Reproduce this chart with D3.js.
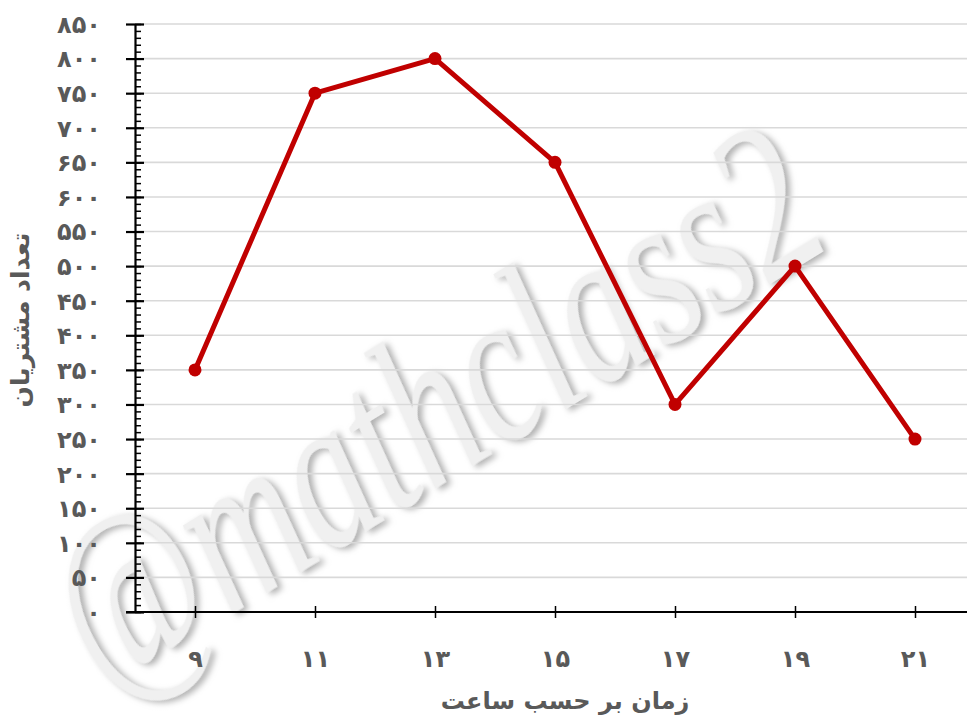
<!DOCTYPE html>
<html>
<head>
<meta charset="utf-8">
<script src="https://cdn.jsdelivr.net/npm/d3@7"></script>
<style>
  body { margin: 0; background: #fff; }
  svg { display: block; }
</style>
</head>
<body>
<div id="chart"></div>
<script>
// data
var hours = [9, 11, 13, 15, 17, 19, 21];
var customers = [350, 750, 800, 650, 300, 500, 250];
var yMax = 850;
var xTitle = "زمان بر حسب ساعت";
var yTitle = "تعداد مشتریان";
var watermark = "@mathclass2";

var width = 967, height = 719;
var mLeft = 135, mTop = 24, mBottom = 612;

var fa = function(n) {
  return String(n).replace(/\d/g, function(d) { return "۰۱۲۳۴۵۶۷۸۹"[d]; });
};

var svg = d3.select("#chart").append("svg")
    .attr("width", width)
    .attr("height", height);

var defs = svg.append("defs");
var shadow = defs.append("filter").attr("id", "wmShadow")
    .attr("x", "-20%").attr("y", "-20%").attr("width", "140%").attr("height", "140%");
shadow.append("feDropShadow")
    .attr("dx", 3).attr("dy", 4)
    .attr("stdDeviation", 3)
    .attr("flood-color", "#9a9a9a")
    .attr("flood-opacity", 0.8);

// scales
var x = d3.scaleLinear().domain([8, 22]).range([mLeft, 975]);
var y = d3.scaleLinear().domain([0, yMax]).range([mBottom, mTop]);

// watermark (behind everything)
svg.append("text")
    .attr("transform", "translate(470,468) rotate(-31.5)")
    .attr("text-anchor", "middle")
    .attr("textLength", 860)
    .attr("lengthAdjust", "spacingAndGlyphs")
    .style("font-family", "'Liberation Serif', serif")
    .style("font-style", "italic")
    .style("font-size", "220px")
    .style("fill", "#f0f0f0")
    .attr("filter", "url(#wmShadow)")
    .text(watermark);

// gridlines
svg.append("g")
    .selectAll("line")
    .data(y.ticks(17).filter(function(d) { return d > 0; }))
    .enter().append("line")
      .attr("x1", mLeft).attr("x2", width)
      .attr("y1", function(d) { return y(d); })
      .attr("y2", function(d) { return y(d); })
      .style("stroke", "#d9d9d9")
      .style("stroke-width", 1.6);

// y axis: minor ticks every 10
svg.append("g")
    .attr("transform", "translate(" + mLeft + ",0)")
    .call(d3.axisRight(y).tickValues(d3.range(0, yMax + 1, 10)).tickSize(6).tickFormat(""))
    .call(function(g) { g.select(".domain").remove(); })
    .selectAll("line").style("stroke", "#000").style("stroke-width", 1.5);

// y axis: major ticks + labels
var yAxis = svg.append("g")
    .attr("transform", "translate(" + mLeft + ",0)")
    .call(d3.axisLeft(y).ticks(17).tickSize(9).tickSizeOuter(0).tickFormat(fa));
yAxis.select(".domain").style("stroke", "#000").style("stroke-width", 2.2);
yAxis.selectAll(".tick line")
    .attr("x1", 9).attr("x2", -9)
    .style("stroke", "#000").style("stroke-width", 2.2);
yAxis.selectAll(".tick text")
    .attr("x", -34)
    .attr("dy", "0.35em")
    .style("font-family", "'DejaVu Sans', sans-serif")
    .style("font-weight", "bold")
    .style("font-size", "24px")
    .style("fill", "#595959");

// x axis
var xAxis = svg.append("g")
    .attr("transform", "translate(0," + mBottom + ")")
    .call(d3.axisBottom(x).tickValues(hours).tickSize(6).tickSizeOuter(0).tickFormat(fa));
xAxis.select(".domain").attr("d", "M" + (mLeft - 9) + ",0H" + width)
    .style("stroke", "#000").style("stroke-width", 2.2);
xAxis.selectAll(".tick line")
    .attr("y1", -6).attr("y2", 6)
    .style("stroke", "#000").style("stroke-width", 1.5);
xAxis.selectAll(".tick text")
    .attr("y", 55)
    .attr("dy", "0")
    .style("font-family", "'DejaVu Sans', sans-serif")
    .style("font-weight", "bold")
    .style("font-size", "24px")
    .style("fill", "#595959");

// axis titles
svg.append("text")
    .attr("x", 565).attr("y", 709)
    .attr("text-anchor", "middle")
    .attr("direction", "rtl")
    .style("font-family", "'DejaVu Sans', sans-serif")
    .style("font-weight", "bold")
    .style("font-size", "24px")
    .style("fill", "#595959")
    .text(xTitle);

svg.append("text")
    .attr("transform", "translate(29,320) rotate(-90)")
    .attr("text-anchor", "middle")
    .attr("direction", "rtl")
    .style("font-family", "'DejaVu Sans', sans-serif")
    .style("font-weight", "bold")
    .style("font-size", "25px")
    .style("fill", "#595959")
    .text(yTitle);

// line + markers
var pts = hours.map(function(h, i) { return [h, customers[i]]; });
var line = d3.line()
    .x(function(d) { return x(d[0]); })
    .y(function(d) { return y(d[1]); });

svg.append("path")
    .datum(pts)
    .attr("d", line)
    .style("fill", "none")
    .style("stroke", "#c00000")
    .style("stroke-width", 5)
    .style("stroke-linejoin", "round");

svg.append("g")
    .selectAll("circle")
    .data(pts)
    .enter().append("circle")
      .attr("cx", function(d) { return x(d[0]); })
      .attr("cy", function(d) { return y(d[1]); })
      .attr("r", 6.5)
      .style("fill", "#c00000");
</script>
</body>
</html>
